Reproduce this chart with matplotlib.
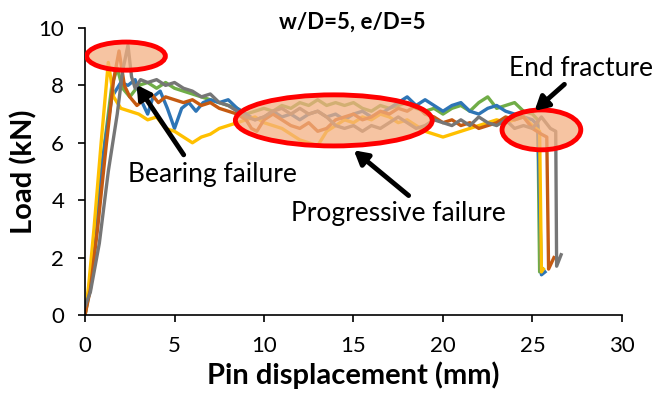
import matplotlib
matplotlib.use("Agg")
import matplotlib.pyplot as plt
from matplotlib.patches import Ellipse

plt.rcParams["font.family"] = ["Lato", "DejaVu Sans"]

# pin displacement (mm) / load (kN) per specimen
yellow_x = [0, 0.2, 0.5, 0.9, 1.3, 1.6, 2.0, 2.5, 3.0, 3.5, 4.0, 4.5, 5.0, 5.5, 6.0, 6.5, 7.0, 7.5,
            8.0, 8.5, 9.0, 9.5, 10.0, 10.5, 11.0, 11.5, 12.0, 12.5, 13.0, 13.5, 14.0, 14.5, 15.0,
            15.5, 16.0, 16.5, 17.0, 17.5, 18.0, 18.5, 19.0, 19.5, 20.0, 20.5, 21.0, 21.5, 22.0,
            22.5, 23.0, 23.5, 24.0, 24.5, 25.0, 25.4, 25.5, 25.6]
yellow_y = [0, 1.0, 3.0, 6.0, 8.8, 7.6, 7.2, 7.1, 7.0, 6.8, 6.9, 6.5, 6.4, 6.2, 6.0, 6.2, 6.3, 6.5,
            6.6, 6.7, 6.8, 6.9, 6.7, 6.6, 6.5, 6.3, 6.1, 6.0, 5.9, 6.4, 6.6, 6.8, 6.7,
            6.9, 6.8, 7.0, 6.9, 6.7, 6.8, 6.6, 6.4, 6.3, 6.2, 6.3, 6.4, 6.5, 6.6,
            6.7, 6.8, 6.7, 6.8, 6.9, 6.6, 6.4, 1.5, 1.6]

blue_x = [0, 0.2, 0.5, 1.0, 1.5, 2.0, 2.4, 2.8, 3.2, 3.5, 3.8, 4.2, 4.6, 5.0, 5.4, 5.8, 6.2, 6.6,
          7.0, 7.5, 8.0, 8.5, 9.0, 9.5, 10.0, 10.5, 11.0, 11.5, 12.0, 12.5, 13.0, 13.5, 14.0,
          14.5, 15.0, 15.5, 16.0, 16.5, 17.0, 17.5, 18.0, 18.5, 19.0, 19.5, 20.0, 20.5, 21.0,
          21.5, 22.0, 22.5, 23.0, 23.5, 24.0, 24.5, 25.0, 25.3, 25.5, 25.7]
blue_y = [0, 0.8, 2.5, 5.5, 7.6, 8.1, 8.0, 8.2, 7.4, 7.0, 7.6, 7.8, 7.2, 6.5, 7.2, 7.4, 7.1, 7.4,
          7.5, 7.4, 7.5, 7.2, 7.0, 6.8, 6.9, 7.1, 6.9, 7.0, 6.8, 7.0, 7.1, 6.9, 7.0,
          6.8, 7.0, 7.1, 6.9, 7.0, 7.2, 7.4, 7.6, 7.3, 7.5, 7.3, 7.1, 7.3, 7.4,
          7.1, 7.0, 7.2, 7.3, 7.1, 7.0, 6.9, 6.8, 6.6, 1.4, 1.5]

orange_x = [0, 0.3, 0.7, 1.2, 1.6, 1.9, 2.2, 2.5, 2.9, 3.3, 3.7, 4.1, 4.5, 5.0, 5.5, 6.0, 6.5, 7.0,
            7.5, 8.0, 8.5, 9.0, 9.3, 9.6, 10.0, 10.5, 11.0, 11.5, 12.0, 12.5, 13.0, 13.5, 14.0,
            14.5, 15.0, 15.5, 16.0, 16.5, 17.0, 17.5, 18.0, 18.5, 19.0, 19.5, 20.0, 20.5, 21.0,
            21.5, 22.0, 22.5, 23.0, 23.5, 24.0, 24.5, 25.0, 25.5, 25.8, 25.9, 26.2]
orange_y = [0, 0.9, 3.0, 6.0, 8.2, 9.2, 8.0, 7.6, 7.3, 7.5, 7.7, 7.4, 7.6, 7.5, 7.4, 7.5, 7.3, 7.4,
            7.2, 7.1, 7.0, 6.8, 6.5, 6.4, 6.8, 7.0, 6.8, 6.6, 6.5, 6.7, 6.4, 6.5, 6.8,
            6.9, 7.0, 6.8, 6.9, 7.1, 7.0, 7.2, 7.1, 7.3, 7.0, 6.9, 6.7, 6.8, 6.6,
            6.7, 6.5, 6.6, 6.7, 6.9, 6.8, 6.9, 6.5, 6.3, 6.2, 1.6, 2.0]

gray_x = [0, 0.3, 0.8, 1.3, 1.8, 2.1, 2.4, 2.6, 2.8, 3.1, 3.5, 4.0, 4.5, 5.0, 5.5, 6.0, 6.5, 7.0,
          7.5, 8.0, 8.5, 9.0, 9.5, 10.0, 10.5, 11.0, 11.5, 12.0, 12.5, 13.0, 13.5, 14.0, 14.5,
          15.0, 15.5, 16.0, 16.5, 17.0, 17.5, 18.0, 18.5, 19.0, 19.5, 20.0, 20.5, 21.0, 21.5,
          22.0, 22.5, 23.0, 23.5, 24.0, 24.5, 25.0, 25.5, 26.0, 26.3, 26.35, 26.6]
gray_y = [0.3, 0.8, 2.5, 5.0, 7.0, 8.5, 9.4, 8.3, 7.9, 8.2, 8.1, 8.2, 8.0, 8.1, 7.9, 7.8, 7.6, 7.7,
          7.4, 7.3, 7.1, 6.9, 6.8, 6.9, 7.1, 7.2, 7.0, 7.2, 7.0, 7.1, 6.9, 6.6, 6.5,
          6.6, 6.4, 6.6, 6.5, 6.7, 6.9, 6.7, 6.5, 6.6, 6.8, 6.7, 6.6, 6.8, 6.6,
          6.9, 6.7, 6.6, 6.8, 6.5, 6.6, 6.5, 6.9, 6.5, 6.4, 1.7, 2.1]

green_x = [0, 0.3, 0.7, 1.1, 1.5, 1.8, 2.1, 2.5, 3.0, 3.5, 4.0, 4.5, 5.0, 5.5, 6.0, 6.5, 7.0, 7.5,
           8.0, 8.5, 9.0, 9.5, 10.0, 10.5, 11.0, 11.5, 12.0, 12.5, 13.0, 13.5, 14.0, 14.5, 15.0,
           15.5, 16.0, 16.5, 17.0, 17.5, 18.0, 18.5, 19.0, 19.5, 20.0, 20.5, 21.0, 21.5, 22.0,
           22.5, 23.0, 23.5, 24.0, 24.5, 25.0, 25.3, 25.4, 25.6]
green_y = [0, 1.0, 3.2, 6.0, 8.0, 8.6, 7.9, 7.6, 8.0, 8.1, 7.9, 8.1, 7.9, 7.8, 7.7, 7.6, 7.5, 7.4,
           7.3, 7.2, 7.0, 7.1, 7.2, 7.1, 7.3, 7.2, 7.4, 7.3, 7.5, 7.3, 7.4, 7.3, 7.4,
           7.2, 7.1, 7.3, 7.2, 7.3, 7.4, 7.2, 7.1, 7.2, 7.0, 7.2, 7.3, 7.1, 7.4,
           7.6, 7.2, 7.3, 7.4, 7.1, 7.0, 6.8, 1.5, 1.6]

fig = plt.figure(figsize=(6.54, 3.94), dpi=100)
ax = fig.add_axes([0.130, 0.2005, 0.821, 0.7285])

lw = 2.4
ax.plot(green_x, green_y, color="#70AD47", lw=lw)
ax.plot(blue_x, blue_y, color="#2E75B6", lw=lw)
ax.plot(yellow_x, yellow_y, color="#FFC000", lw=lw)
ax.plot(orange_x, orange_y, color="#C55A11", lw=lw)
ax.plot(gray_x, gray_y, color="#767676", lw=lw)

# highlight ellipses
for cx, cy, w, h in [(2.29, 9.02, 4.4, 0.98), (13.9, 6.78, 11.0, 1.78), (25.5, 6.45, 4.4, 1.39)]:
    ax.add_patch(Ellipse((cx, cy), w, h, facecolor="#F4B183", alpha=0.75, edgecolor="none", zorder=3))
    ax.add_patch(Ellipse((cx, cy), w, h, facecolor="none", edgecolor="#FF0000", lw=3.5, zorder=4))

arrow = dict(arrowstyle="-|>,head_width=0.45,head_length=0.8", color="black", lw=3.5)
ax.annotate("", xy=(2.8, 8.1), xytext=(5.6, 5.5), arrowprops=arrow, zorder=5)
ax.annotate("", xy=(14.9, 5.8), xytext=(18.2, 4.1), arrowprops=arrow, zorder=5)
ax.annotate("", xy=(25.0, 7.05), xytext=(26.9, 8.1), arrowprops=arrow, zorder=5)

ax.text(7.1, 4.9, "Bearing failure", fontsize=19, ha="center", va="center")
ax.text(17.5, 3.55, "Progressive failure", fontsize=19, ha="center", va="center")
ax.text(27.7, 8.6, "End fracture", fontsize=19, ha="center", va="center", clip_on=False)

fig.text(352 / 654, 1 - 22 / 394, "w/D=5, e/D=5", fontsize=16, fontweight="bold",
         ha="center", va="center")

ax.set_xlim(0, 30)
ax.set_ylim(0, 10)
ax.set_xticks(range(0, 31, 5))
ax.set_yticks(range(0, 11, 2))
ax.tick_params(direction="out", length=5, width=1.2, labelsize=16, colors="black")
ax.tick_params(axis="x", pad=10)
ax.tick_params(axis="y", pad=10)
for s in ["top", "right"]:
    ax.spines[s].set_visible(False)
for s in ["left", "bottom"]:
    ax.spines[s].set_linewidth(1.2)
ax.set_xlabel("Pin displacement (mm)", fontsize=21, fontweight="bold", labelpad=4)
ax.set_ylabel("Load (kN)", fontsize=21, fontweight="bold", labelpad=1)

fig.savefig("out.png", dpi=100)
